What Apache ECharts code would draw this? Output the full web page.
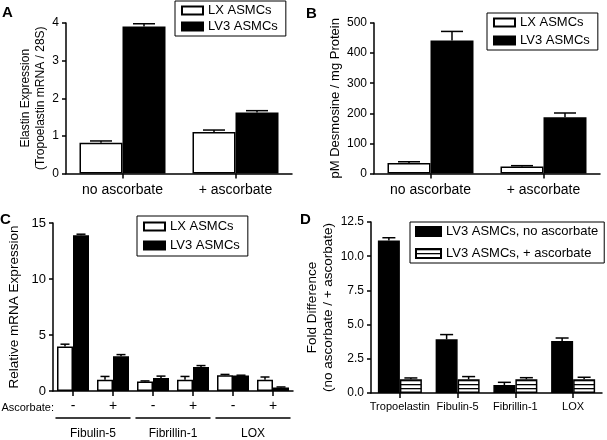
<!DOCTYPE html>
<html><head><meta charset="utf-8">
<script src="https://cdn.jsdelivr.net/npm/echarts@6/dist/echarts.min.js"></script>
<style>html,body{margin:0;padding:0;background:#fff}#c{width:607px;height:440px}</style>
</head><body><div id="c"></div>
<script>
// ---------- Panel A: elastin expression ----------
const catA = ['no ascorbate', '+ ascorbate'];
const lxA = [0.82, 1.10];
const lxAErr = [0.045, 0.055];
const lv3A = [3.91, 1.62];
const lv3AErr = [0.07, 0.05];
const ticksA = [0, 1, 2, 3, 4];

// ---------- Panel B: desmosine ----------
const catB = ['no ascorbate', '+ ascorbate'];
const lxB = [35, 23];
const lxBErr = [4, 3];
const lv3B = [442, 187];
const lv3BErr = [30, 14];
const ticksB = [0, 100, 200, 300, 400, 500];

// ---------- Panel C: relative mRNA ----------
const catC = ['-', '+', '-', '+', '-', '+'];
const groupsC = ['Fibulin-5', 'Fibrillin-1', 'LOX'];
const lxC = [3.98, 1.0, 0.85, 1.0, 1.40, 1.0];
const lxCErr = [0.2, 0.3, 0.05, 0.3, 0.08, 0.25];
const lv3C = [13.9, 3.1, 1.15, 2.15, 1.38, 0.32];
const lv3CErr = [0.1, 0.15, 0.18, 0.12, 0.03, 0.04];
const ticksC = [0, 5, 10, 15];

// ---------- Panel D: fold difference ----------
const catD = ['Tropoelastin', 'Fibulin-5', 'Fibrillin-1', 'LOX'];
const noAscD = [11.15, 3.92, 0.58, 3.80];
const noAscDErr = [0.2, 0.35, 0.2, 0.22];
const ascD = [1.0, 1.0, 1.0, 1.0];
const ascDErr = [0.1, 0.2, 0.12, 0.15];
const ticksD = [0, 2.5, 5, 7.5, 10, 12.5];

const FONT = '"Liberation Sans", Arial, Helvetica, sans-serif';
const BLACK = '#000';

function stripePattern() {
  const cv = document.createElement('canvas');
  cv.width = 4; cv.height = 4;
  const ctx = cv.getContext('2d');
  ctx.fillStyle = '#fff'; ctx.fillRect(0, 0, 4, 4);
  ctx.fillStyle = '#000'; ctx.fillRect(0, 0, 4, 1.3);
  return { image: cv, repeat: 'repeat' };
}

function yAxisCfg(grid, ticks, name, nameGap, nameSize, fontSize, fmt) {
  return {
    type: 'value', gridIndex: grid,
    min: ticks[0], max: ticks[ticks.length - 1], interval: ticks[1] - ticks[0],
    name: name, nameLocation: 'middle', nameGap: nameGap, nameRotate: 90,
    nameTextStyle: { fontFamily: FONT, fontSize: nameSize, color: BLACK, lineHeight: nameSize + 3 },
    axisLine: { show: true, lineStyle: { color: BLACK, width: 1.5 } },
    axisTick: { show: true, length: 4, lineStyle: { color: BLACK, width: 1.5 } },
    axisLabel: { fontFamily: FONT, fontSize: fontSize, color: BLACK, margin: 7, formatter: fmt },
    splitLine: { show: false }
  };
}
function xAxisCfg(grid, cats, fontSize, margin) {
  return {
    type: 'category', gridIndex: grid, data: cats,
    axisLine: { show: true, onZero: false, lineStyle: { color: BLACK, width: 1.5 } },
    axisTick: { show: true, alignWithLabel: true, length: 5, lineStyle: { color: BLACK, width: 1.5 } },
    axisLabel: { fontFamily: FONT, fontSize: fontSize, color: BLACK, margin: margin, interval: 0 },
    splitLine: { show: false }
  };
}
function barSeries(name, xi, yi, data, fill, barWidth) {
  return {
    type: 'bar', name: name, xAxisIndex: xi, yAxisIndex: yi, data: data,
    barWidth: barWidth, barGap: '0%',
    itemStyle: { color: fill, borderColor: BLACK, borderWidth: 1.5 },
    emphasis: { disabled: true }, silent: true, animation: false, z: 2
  };
}
function errSeries(xi, yi, means, errs, side, barWidth, capWidth) {
  return {
    type: 'custom', xAxisIndex: xi, yAxisIndex: yi,
    data: means.map((m, i) => [i, m, m + errs[i]]),
    encode: { x: 0, y: [1, 2] },
    renderItem: function (params, api) {
      const base = api.coord([api.value(0), api.value(1)]);
      const top = api.coord([api.value(0), api.value(2)]);
      const x = base[0] + side * barWidth / 2;
      return {
        type: 'group', children: [
          { type: 'line', shape: { x1: x, y1: base[1], x2: x, y2: top[1] }, style: { stroke: BLACK, lineWidth: 1.5 } },
          { type: 'line', shape: { x1: x - capWidth / 2, y1: top[1], x2: x + capWidth / 2, y2: top[1] }, style: { stroke: BLACK, lineWidth: 1.5 } }
        ]
      };
    },
    silent: true, animation: false, z: 3
  };
}
function legendCfg(left, top, names, iw, ih, gap, pad) {
  return {
    orient: 'vertical', left: left, top: top, data: names, icon: 'rect',
    itemWidth: iw, itemHeight: ih, itemGap: gap, padding: pad,
    borderColor: BLACK, borderWidth: 1, borderRadius: 0, backgroundColor: '#fff',
    textStyle: { fontFamily: FONT, fontSize: 13, color: BLACK },
    selectedMode: false
  };
}
function letter(t, left, top) {
  return { text: t, left: left, top: top, padding: 0,
    textStyle: { fontFamily: FONT, fontSize: 15, fontWeight: 'bold', color: BLACK } };
}

const stripes = stripePattern();
const chart = echarts.init(document.getElementById('c'), null, { renderer: 'canvas' });

// axis indices: x: 0=A,1=B,2=C,3=C groups,4=D ; y: 0=A,1=B,2=C,3=D
const option = {
  animation: false,
  backgroundColor: '#fff',
  title: [letter('A', 2, 5), letter('B', 306, 6), letter('C', 0, 212), letter('D', 300, 212)],
  grid: [
    { left: 66, top: 23, width: 226, height: 150.5 },
    { left: 374, top: 23, width: 226, height: 150.5 },
    { left: 53, top: 223, width: 240, height: 169.5 },
    { left: 371, top: 222, width: 231, height: 171 }
  ],
  xAxis: [
    xAxisCfg(0, catA, 14, 10),
    xAxisCfg(1, catB, 14, 10),
    xAxisCfg(2, catC, 14, 8),
    {
      type: 'category', gridIndex: 2, data: groupsC, position: 'bottom', offset: 27,
      axisLine: { show: true, onZero: false, lineStyle: { color: BLACK, width: 1.5, type: [74, 6], dashOffset: 77 } },
      axisTick: { show: false },
      axisLabel: { fontFamily: FONT, fontSize: 12, color: BLACK, margin: 10, interval: 0 },
      splitLine: { show: false }
    },
    xAxisCfg(3, catD, 11, 8)
  ],
  yAxis: [
    yAxisCfg(0, ticksA, 'Elastin Expression\n(Tropoelastin mRNA / 28S)', 18, 12, 12),
    yAxisCfg(1, ticksB, 'pM Desmosine / mg Protein', 31, 13, 12),
    yAxisCfg(2, ticksC, 'Relative mRNA Expression', 30, 13.5, 13),
    yAxisCfg(3, ticksD, 'Fold Difference\n(no ascorbate / + ascorbate)', 29, 13.5, 12, v => v.toFixed(1))
  ],
  legend: [
    legendCfg(175, 1, ['LX ASMCs', 'LV3 ASMCs'], 21, 8, 3, [3, 8, 3, 6]),
    legendCfg(487, 13, ['LX ASMCs', 'LV3 ASMCs'], 21, 8, 5, [3, 8, 3, 6]),
    legendCfg(137, 216, ['LX ASMCs', 'LV3 ASMCs'], 21, 8, 6, [4, 8, 4, 6]),
    legendCfg(410, 222, ['LV3 ASMCs, no ascorbate', 'LV3 ASMCs, + ascorbate'], 25, 9, 9, [3, 6, 3, 5])
  ],
  graphic: [
    { type: 'text', x: 54, y: 408, style: { text: 'Ascorbate:', align: 'right', verticalAlign: 'middle', font: '11px ' + FONT, fill: BLACK } }
  ],
  series: [
    barSeries('LX ASMCs', 0, 0, lxA, '#fff', 43),
    barSeries('LV3 ASMCs', 0, 0, lv3A, '#000', 43),
    errSeries(0, 0, lxA, lxAErr, -1, 43, 22),
    errSeries(0, 0, lv3A, lv3AErr, 1, 43, 22),

    barSeries('LX ASMCs', 1, 1, lxB, '#fff', 43),
    barSeries('LV3 ASMCs', 1, 1, lv3B, '#000', 43),
    errSeries(1, 1, lxB, lxBErr, -1, 43, 22),
    errSeries(1, 1, lv3B, lv3BErr, 1, 43, 22),

    barSeries('LX ASMCs', 2, 2, lxC, '#fff', 16),
    barSeries('LV3 ASMCs', 2, 2, lv3C, '#000', 16),
    errSeries(2, 2, lxC, lxCErr, -1, 16, 9),
    errSeries(2, 2, lv3C, lv3CErr, 1, 16, 9),

    barSeries('LV3 ASMCs, no ascorbate', 4, 3, noAscD, '#000', 22),
    barSeries('LV3 ASMCs, + ascorbate', 4, 3, ascD, stripes, 22),
    errSeries(4, 3, noAscD, noAscDErr, -1, 22, 13),
    errSeries(4, 3, ascD, ascDErr, 1, 22, 13)
  ]
};
chart.setOption(option);
</script>
</body></html>
